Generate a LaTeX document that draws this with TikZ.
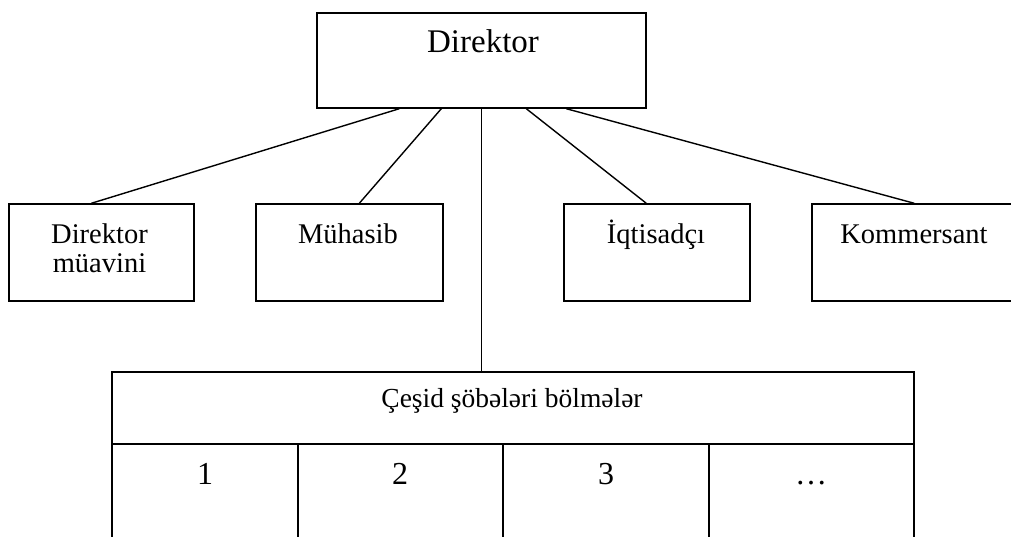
\documentclass[tikz,border=0pt]{standalone}
\usepackage{fontspec}
\setmainfont{Liberation Serif}
\begin{document}
\begin{tikzpicture}[x=1pt,y=-1pt,
  box/.style={draw, line width=1.4pt, inner sep=0pt},
  link/.style={line width=1.4pt},
  bigtxt/.style={font=\fontsize{33}{40}\selectfont, inner sep=0pt, anchor=base},
  boxtxt/.style={font=\fontsize{28.5}{29}\selectfont, inner sep=0pt, anchor=base, align=center},
  hdrtxt/.style={font=\fontsize{27.5}{33}\selectfont, inner sep=0pt, anchor=base},
  numtxt/.style={font=\fontsize{32}{38}\selectfont, inner sep=0pt, anchor=base}]
\useasboundingbox (0,0) rectangle (1011,536);

% top box
\node[box, minimum width=329pt, minimum height=95pt] (dir) at (481.5,60.5) {};
\node[bigtxt] (dirt) at (483,52) {Direktor};

% second row
\node[box, minimum width=185pt, minimum height=97pt] (b1) at (101.5,252.5) {};
\node[box, minimum width=187pt, minimum height=97pt] (b2) at (349.5,252.5) {};
\node[box, minimum width=186pt, minimum height=97pt] (b3) at (657,252.5) {};
\node[box, minimum width=210pt, minimum height=97pt] (b4) at (917,252.5) {};
\node[boxtxt] (b1t) at (99.5,272) {Direktor\\müavini};
\node[boxtxt] (b2t) at (348,243) {Mühasib};
\node[boxtxt] (b3t) at (656,243) {İqtisadçı};
\node[boxtxt] (b4t) at (914,243) {Kommersant};

% departments table
\node[box, minimum width=802pt, minimum height=72pt] (hdr) at (513,408) {};
\node[hdrtxt] (hdrt) at (512,407) {Çeşid şöbələri bölmələr};
\node[box, minimum width=186pt, minimum height=101pt] (c1) at (205,494.5) {};
\node[box, minimum width=205pt, minimum height=101pt] (c2) at (400.5,494.5) {};
\node[box, minimum width=206pt, minimum height=101pt] (c3) at (606,494.5) {};
\node[box, minimum width=205pt, minimum height=101pt] (c4) at (811.5,494.5) {};
\node[numtxt] (c1t) at (205,484) {1};
\node[numtxt] (c2t) at (400,484) {2};
\node[numtxt] (c3t) at (606,484) {3};
\node[numtxt] (c4t) at (811,484) {\ldots};

% connectors
\draw[link] ([xshift=83pt]dir.south west) -- ([xshift=83pt]b1.north west);
\draw[link] ([xshift=125pt]dir.south west) -- ([xshift=104pt]b2.north west);
\draw[link] (dir.south) -- (dir.south |- hdr.north);
\draw[link] ([xshift=210pt]dir.south west) -- ([xshift=83pt]b3.north west);
\draw[link] ([xshift=250pt]dir.south west) -- ([xshift=103pt]b4.north west);
\end{tikzpicture}
\end{document}
